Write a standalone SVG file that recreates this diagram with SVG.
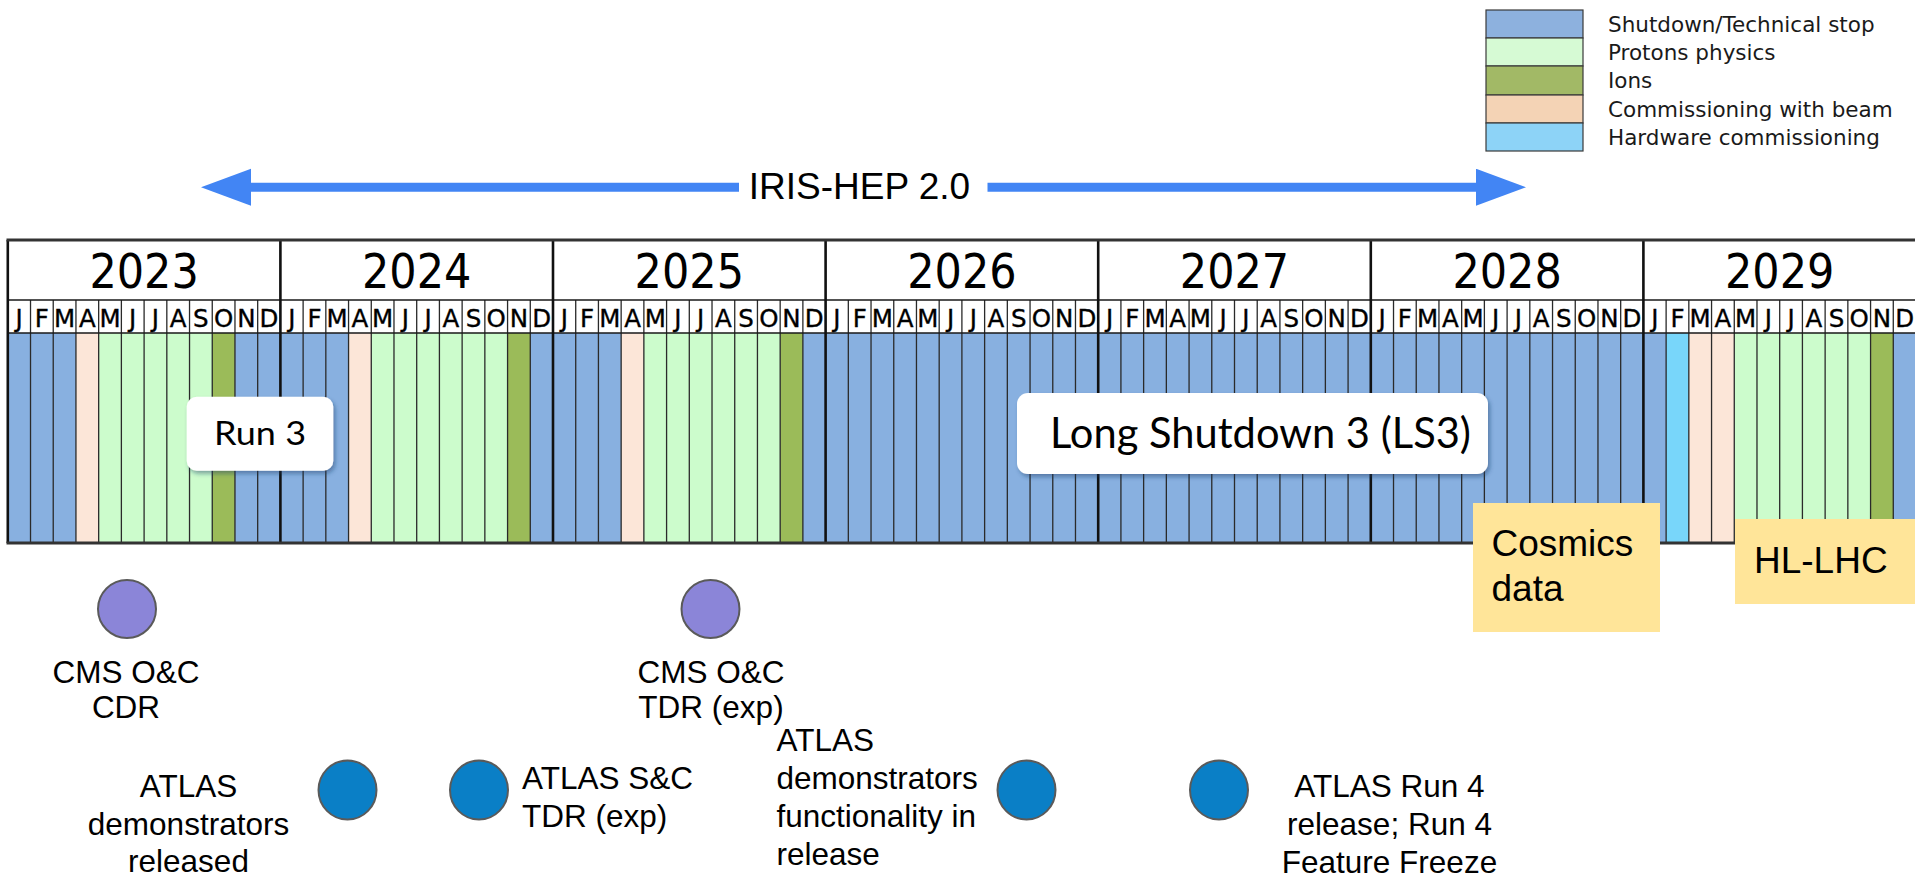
<svg xmlns="http://www.w3.org/2000/svg" width="1915" height="878" viewBox="0 0 1915 878">
<style>
.lg{font-family:"DejaVu Sans",Verdana,sans-serif;font-size:21.5px;fill:#1a1a1a}
.yr{font-family:"DejaVu Sans",Verdana,sans-serif;font-size:43px;fill:#000;text-anchor:middle}
.mo{font-family:"DejaVu Sans",Verdana,sans-serif;font-size:24.5px;fill:#000;stroke:#000;stroke-width:0.35;text-anchor:middle}
.ar{font-family:"Liberation Sans",Arial,sans-serif;font-size:31.5px;fill:#000}
.big{font-family:"Liberation Sans",Arial,sans-serif;font-size:37px;fill:#000}
.cal{font-family:Lato,"Open Sans",sans-serif;fill:#000}
.mid{text-anchor:middle}
.sw{stroke:#3a3a3a;stroke-width:1.2}
.bl{fill:#88b0e0}.gr{fill:#ccfccc}.io{fill:#9bbb59}.pe{fill:#fce6d8}.cy{fill:#78d6fa}
.cms{fill:#8b85d8;stroke:#5a5a5a;stroke-width:2}
.atl{fill:#0a7fc6;stroke:#5a5a5a;stroke-width:2}
.note{fill:#ffe599}
.lbl{fill:#fff}
</style>
<defs>
<marker id="ah" markerUnits="userSpaceOnUse" markerWidth="52" markerHeight="38" refX="0" refY="18.5" orient="auto">
<path d="M0,0 L50,18.5 L0,37 Z" fill="#4285f4"/>
</marker>
<filter id="sh" x="-10%" y="-20%" width="125%" height="150%">
<feDropShadow dx="2" dy="3" stdDeviation="2" flood-color="#1f3a66" flood-opacity="0.45"/>
</filter>
</defs>
<rect width="1915" height="878" fill="#fff"/>

<g id="legend">
<rect class="sw" x="1486" y="10" width="97" height="28" fill="#8db1de"/>
<rect class="sw" x="1486" y="38" width="97" height="28" fill="#d6fad4"/>
<rect class="sw" x="1486" y="66" width="97" height="29" fill="#a2b966"/>
<rect class="sw" x="1486" y="95" width="97" height="28" fill="#f4d3b5"/>
<rect class="sw" x="1486" y="123" width="97" height="28" fill="#8dd3f7"/>
<text class="lg" x="1608" y="32">Shutdown/Technical stop</text>
<text class="lg" x="1608" y="60">Protons physics</text>
<text class="lg" x="1608" y="88">Ions</text>
<text class="lg" x="1608" y="117">Commissioning with beam</text>
<text class="lg" x="1608" y="145">Hardware commissioning</text>
</g>

<g id="timeline">
<rect x="7.8" y="240" width="1910" height="93" fill="#fff"/>
<rect class="bl" x="7.8" y="333" width="1910" height="210"/>
<rect class="pe" x="75.95" y="333" width="22.72" height="210"/>
<rect class="gr" x="98.67" y="333" width="113.58" height="210"/>
<rect class="io" x="212.25" y="333" width="22.72" height="210"/>
<rect class="pe" x="348.55" y="333" width="22.72" height="210"/>
<rect class="gr" x="371.27" y="333" width="136.3" height="210"/>
<rect class="io" x="507.57" y="333" width="22.72" height="210"/>
<rect class="pe" x="621.15" y="333" width="22.72" height="210"/>
<rect class="gr" x="643.87" y="333" width="136.3" height="210"/>
<rect class="io" x="780.17" y="333" width="22.72" height="210"/>
<rect class="cy" x="1666.12" y="333" width="22.72" height="210"/>
<rect class="pe" x="1688.84" y="333" width="45.43" height="210"/>
<rect class="gr" x="1734.27" y="333" width="136.3" height="210"/>
<rect class="io" x="1870.57" y="333" width="22.72" height="210"/>
<path fill="none" stroke="#2a2a2a" stroke-width="1.3" d="M30.52 300V543M53.23 300V543M75.95 300V543M98.67 300V543M121.38 300V543M144.1 300V543M166.82 300V543M189.53 300V543M212.25 300V543M234.97 300V543M257.68 300V543M303.12 300V543M325.83 300V543M348.55 300V543M371.27 300V543M393.98 300V543M416.7 300V543M439.42 300V543M462.13 300V543M484.85 300V543M507.57 300V543M530.28 300V543M575.72 300V543M598.43 300V543M621.15 300V543M643.87 300V543M666.58 300V543M689.3 300V543M712.02 300V543M734.73 300V543M757.45 300V543M780.17 300V543M802.88 300V543M848.32 300V543M871.03 300V543M893.75 300V543M916.47 300V543M939.18 300V543M961.9 300V543M984.62 300V543M1007.33 300V543M1030.05 300V543M1052.77 300V543M1075.48 300V543M1120.92 300V543M1143.63 300V543M1166.35 300V543M1189.07 300V543M1211.78 300V543M1234.5 300V543M1257.22 300V543M1279.93 300V543M1302.65 300V543M1325.37 300V543M1348.08 300V543M1393.52 300V543M1416.23 300V543M1438.95 300V543M1461.67 300V543M1484.38 300V543M1507.1 300V543M1529.82 300V543M1552.53 300V543M1575.25 300V543M1597.97 300V543M1620.68 300V543M1666.12 300V543M1688.83 300V543M1711.55 300V543M1734.27 300V543M1756.98 300V543M1779.7 300V543M1802.42 300V543M1825.13 300V543M1847.85 300V543M1870.57 300V543M1893.28 300V543"/>
<path fill="none" stroke="#1a1a1a" stroke-width="1.6" d="M7.8 300H1915M7.8 333H1915"/>
<path fill="none" stroke="#111" stroke-width="2.6" d="M7.8 240V543M280.4 240V543M553 240V543M825.6 240V543M1098.2 240V543M1370.8 240V543M1643.4 240V543"/>
<path fill="none" stroke="#333" stroke-width="2.8" d="M6.5 240H1915M6.5 543H1915"/>
<g transform="matrix(1,0,0,1.1,0,-28.8)">
<text class="yr" x="144.1" y="288">2023</text>
<text class="yr" x="416.7" y="288">2024</text>
<text class="yr" x="689.3" y="288">2025</text>
<text class="yr" x="961.9" y="288">2026</text>
<text class="yr" x="1234.5" y="288">2027</text>
<text class="yr" x="1507.1" y="288">2028</text>
<text class="yr" x="1779.7" y="288">2029</text>
</g>
<text class="mo" y="326.5" x="19.16 41.88 64.59 87.31 110.03 132.74 155.46 178.18 200.89 223.61 246.33 269.04">JFMAMJJASOND</text>
<text class="mo" y="326.5" x="291.76 314.48 337.19 359.91 382.63 405.34 428.06 450.78 473.49 496.21 518.93 541.64">JFMAMJJASOND</text>
<text class="mo" y="326.5" x="564.36 587.08 609.79 632.51 655.23 677.94 700.66 723.38 746.09 768.81 791.53 814.24">JFMAMJJASOND</text>
<text class="mo" y="326.5" x="836.96 859.68 882.39 905.11 927.83 950.54 973.26 995.98 1018.69 1041.41 1064.13 1086.84">JFMAMJJASOND</text>
<text class="mo" y="326.5" x="1109.56 1132.28 1154.99 1177.71 1200.43 1223.14 1245.86 1268.58 1291.29 1314.01 1336.73 1359.44">JFMAMJJASOND</text>
<text class="mo" y="326.5" x="1382.16 1404.88 1427.59 1450.31 1473.03 1495.74 1518.46 1541.18 1563.89 1586.61 1609.33 1632.04">JFMAMJJASOND</text>
<text class="mo" y="326.5" x="1654.76 1677.48 1700.19 1722.91 1745.63 1768.34 1791.06 1813.78 1836.49 1859.21 1881.93 1904.64">JFMAMJJASOND</text>
</g>

<g id="run3">
<rect class="lbl" x="186.7" y="396.7" width="146.6" height="74" rx="10" filter="url(#sh)"/>
<text class="cal mid" x="260" y="445" font-size="33" textLength="92" lengthAdjust="spacingAndGlyphs">Run 3</text>
</g>

<g id="ls3">
<rect class="lbl" x="1017" y="393" width="471" height="81" rx="11" filter="url(#sh)"/>
<text class="cal" x="1050" y="448" font-size="42" textLength="421" lengthAdjust="spacingAndGlyphs">Long Shutdown 3 (LS3)</text>
</g>

<g id="cosmics">
<rect class="note" x="1473" y="503" width="187" height="129"/>
<text class="big" x="1491.5" y="555.7">Cosmics</text>
<text class="big" x="1491.5" y="600.7">data</text>
</g>

<g id="hl-lhc">
<rect class="note" x="1735" y="519" width="185" height="85"/>
<text class="big" x="1754" y="573">HL-LHC</text>
</g>

<g id="connectors">
<line x1="739" y1="187.2" x2="251" y2="187.2" stroke="#4285f4" stroke-width="9" marker-end="url(#ah)"/>
<line x1="987.5" y1="187.2" x2="1476" y2="187.2" stroke="#4285f4" stroke-width="9" marker-end="url(#ah)"/>
</g>
<g id="iris-hep-label">
<text class="big mid" x="859.5" y="199">IRIS-HEP 2.0</text>
</g>

<g id="cms-cdr">
<ellipse class="cms" cx="127" cy="609" rx="29" ry="29"/>
<text class="ar mid" x="126" y="683">CMS O&amp;C</text>
<text class="ar mid" x="126" y="718">CDR</text>
</g>
<g id="cms-tdr">
<ellipse class="cms" cx="710.5" cy="609" rx="29" ry="29"/>
<text class="ar mid" x="711" y="683">CMS O&amp;C</text>
<text class="ar mid" x="711" y="718">TDR (exp)</text>
</g>
<g id="atlas-demo-released">
<ellipse class="atl" cx="347.5" cy="790" rx="29" ry="29.5"/>
<text class="ar mid" x="188.5" y="797">ATLAS</text>
<text class="ar mid" x="188.5" y="835">demonstrators</text>
<text class="ar mid" x="188.5" y="872">released</text>
</g>
<g id="atlas-sc-tdr">
<ellipse class="atl" cx="479" cy="790" rx="29" ry="29.5"/>
<text class="ar" x="522" y="789">ATLAS S&amp;C</text>
<text class="ar" x="522" y="827">TDR (exp)</text>
</g>
<g id="atlas-demo-func">
<ellipse class="atl" cx="1026.5" cy="790" rx="29" ry="29.5"/>
<text class="ar" x="776.5" y="751">ATLAS</text>
<text class="ar" x="776.5" y="789">demonstrators</text>
<text class="ar" x="776.5" y="827">functionality in</text>
<text class="ar" x="776.5" y="865">release</text>
</g>
<g id="atlas-run4">
<ellipse class="atl" cx="1219" cy="790" rx="29" ry="29.5"/>
<text class="ar mid" x="1389.5" y="797">ATLAS Run 4</text>
<text class="ar mid" x="1389.5" y="835">release; Run 4</text>
<text class="ar mid" x="1389.5" y="873">Feature Freeze</text>
</g>
</svg>
